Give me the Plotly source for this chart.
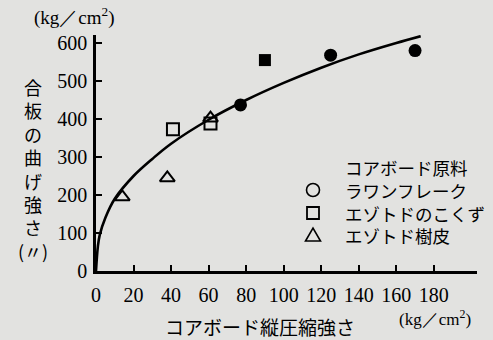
import plotly.graph_objects as go

# ---- data ----
x_ticks = [0, 20, 40, 60, 80, 100, 120, 140, 160, 180]
y_ticks = [0, 100, 200, 300, 400, 500, 600]

lauan_x = [77, 125, 170]          # filled circles
lauan_y = [437, 568, 580]
sawdust_x = [41, 61]              # open squares
sawdust_y = [373, 388]
sawdust_fill_x = [90]             # filled square
sawdust_fill_y = [555]
bark_x = [14, 38, 61]             # open triangles
bark_y = [195, 245, 402]

curve_x = [0, 1, 2, 5, 10, 20, 30, 40, 60, 80, 100, 120, 140, 160, 173]
curve_y = [0, 65, 95, 140, 190, 250, 295, 335, 398, 450, 495, 535, 570, 600, 618]

legend_title = "コアボード原料"
legend_labels = ["ラワンフレーク", "エゾトドのこくず", "エゾトド樹皮"]
y_title_chars = ["合", "板", "の", "曲", "げ", "強", "さ", "(〃)"]
x_title = "コアボード縦圧縮強さ"
unit_text = "(kg／cm<sup>2</sup>)"

SERIF = "Liberation Serif, DejaVu Serif, serif"
JP = "Noto Sans CJK JP, sans-serif"
BG = "#e2e2e0"

W, H = 493, 340
ML, MR, MT, MB = 96, 16, 35, 69
pw, ph = W - ML - MR, H - MT - MB


def px(x):
    return (x - ML) / pw


def py(y):
    return 1 - (y - MT) / ph


fig = go.Figure()
fig.add_trace(go.Scatter(x=curve_x, y=curve_y, mode="lines",
                         line=dict(color="black", width=2.6, shape="spline"),
                         hoverinfo="skip"))
fig.add_trace(go.Scatter(x=lauan_x, y=lauan_y, mode="markers",
                         marker=dict(symbol="circle", size=13, color="black")))
fig.add_trace(go.Scatter(x=sawdust_x, y=sawdust_y, mode="markers",
                         marker=dict(symbol="square-open", size=12, color="black",
                                     line=dict(width=2, color="black"))))
fig.add_trace(go.Scatter(x=sawdust_fill_x, y=sawdust_fill_y, mode="markers",
                         marker=dict(symbol="square", size=12, color="black")))
fig.add_trace(go.Scatter(x=bark_x, y=bark_y, mode="markers",
                         marker=dict(symbol="triangle-up-open", size=13, color="black",
                                     line=dict(width=2, color="black"))))

P = dict(xref="paper", yref="paper", showarrow=False)
annotations = [
    dict(x=px(32), y=py(17), text=unit_text, xanchor="left", yanchor="middle",
         font=dict(family=SERIF, size=19, color="black"), **P),
    dict(x=px(33), y=py(169), text="<br>".join(y_title_chars),
         xanchor="center", yanchor="middle", align="center",
         font=dict(family=JP, size=18, color="black"), **P),
    dict(x=px(260), y=py(326), text=x_title, xanchor="center", yanchor="middle",
         font=dict(family=JP, size=19, color="black"), **P),
    dict(x=px(397), y=py(318), text=unit_text, xanchor="left", yanchor="middle",
         font=dict(family=SERIF, size=17, color="black"), **P),
    dict(x=px(343), y=py(201), text="<br>".join([legend_title] + legend_labels),
         xanchor="left", yanchor="middle", align="left",
         font=dict(family=JP, size=17.5, color="black"), **P),
]

# legend key symbols (hollow, as in the key of the reference)
sx = 313
shapes = [
    dict(type="circle", xref="paper", yref="paper",
         x0=px(sx - 6.5), x1=px(sx + 6.5), y0=py(190 + 6.5), y1=py(190 - 6.5),
         line=dict(color="black", width=1.6)),
    dict(type="rect", xref="paper", yref="paper",
         x0=px(sx - 6), x1=px(sx + 6), y0=py(213 + 6), y1=py(213 - 6),
         line=dict(color="black", width=1.8)),
    dict(type="path", xref="paper", yref="paper",
         path="M {} {} L {} {} L {} {} Z".format(px(sx - 7.5), py(241), px(sx + 7.5), py(241),
                                                 px(sx), py(228)),
         line=dict(color="black", width=1.6)),
]

fig.update_layout(
    width=W, height=H,
    margin=dict(l=ML, r=MR, t=MT, b=MB, pad=0),
    paper_bgcolor=BG, plot_bgcolor=BG,
    showlegend=False,
    annotations=annotations,
    shapes=shapes,
    xaxis=dict(range=[0, 203], tickvals=x_ticks, ticks="inside", ticklen=6,
               tickwidth=2, tickcolor="black", showline=True, linecolor="black",
               linewidth=2.6, showgrid=False, zeroline=False,
               tickfont=dict(family=SERIF, size=20, color="black"),
               ticklabelstandoff=4),
    yaxis=dict(range=[0, 621], tickvals=y_ticks, ticks="inside", ticklen=6,
               tickwidth=2, tickcolor="black", showline=True, linecolor="black",
               linewidth=2.6, showgrid=False, zeroline=False,
               tickfont=dict(family=SERIF, size=20, color="black"),
               ticklabelstandoff=2),
)

fig.write_html("out.html", config={"displayModeBar": False},
               post_script="document.body.style.margin='0';document.body.style.background='%s';" % BG)
